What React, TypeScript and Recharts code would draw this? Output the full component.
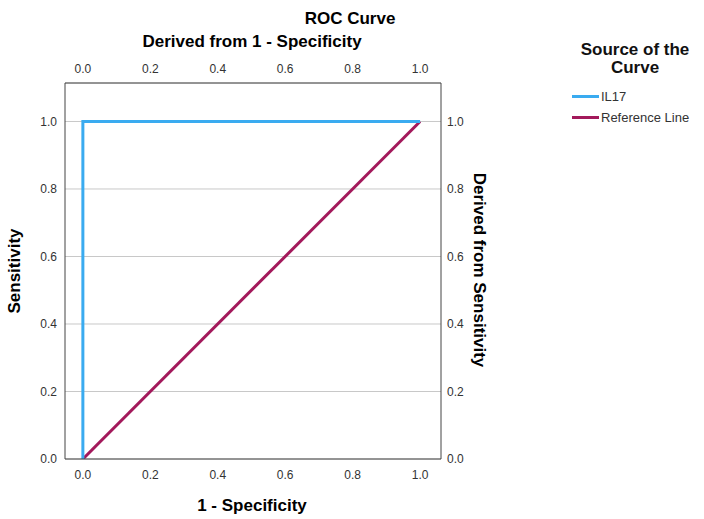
import React from 'react';
import {
    LineChart,
    Line,
    XAxis,
    YAxis,
    CartesianGrid
} from 'recharts';

// ROC data: x = 1 - specificity, y = sensitivity
const il17X = [0, 0, 1];
const il17Y = [0, 1, 1];
const refX = [0, 1];
const refY = [0, 1];
const tickValues = [0, 0.2, 0.4, 0.6, 0.8, 1.0];
const legendNames = ['IL17', 'Reference Line'];

const il17Data = il17X.map((x, i) => ({ x, y: il17Y[i] }));
const refData = refX.map((x, i) => ({ x, y: refY[i] }));

const BLUE = '#3aabf0';
const RED = '#a3195b';
const FONT = '"Liberation Sans", Arial, sans-serif';

const fmt = (v: number) => v.toFixed(1);

const tickStyle = { fill: '#333', fontSize: 12, fontFamily: FONT };

const LegendBox = () => (
    <div style={{ position: 'absolute', left: 560, top: 41, width: 150, fontFamily: FONT, color: '#111' }}>
        <div style={{ fontWeight: 700, fontSize: 17, textAlign: 'center', lineHeight: '18px' }}>
            Source of the<br />Curve
        </div>
        <div style={{ marginTop: 9, paddingLeft: 12 }}>
            {legendNames.map((name, i) => (
                <div key={name} style={{ display: 'flex', alignItems: 'center', height: 21, fontSize: 13, color: '#333' }}>
                    <span style={{ display: 'inline-block', width: 27, height: 3, background: i === 0 ? BLUE : RED, marginRight: 2 }} />
                    {name}
                </div>
            ))}
        </div>
    </div>
);

const App: React.FC = () => {
    return (
        <div style={{ position: 'absolute', left: 0, top: 0, width: 704, height: 519, background: '#fff', fontFamily: FONT }}>
            <LineChart
                width={704}
                height={519}
                margin={{ top: 58, left: 35, right: 233, bottom: 35 }}
            >
                <CartesianGrid yAxisId="left" xAxisId="bottom" vertical={false} stroke="#c8c8c8" strokeWidth={1} />
                <XAxis
                    xAxisId="bottom"
                    dataKey="x"
                    type="number"
                    domain={[-0.053, 1.062]}
                    ticks={tickValues}
                    tickFormatter={fmt}
                    orientation="bottom"
                    height={25}
                    tickSize={0}
                    tickMargin={11}
                    tick={tickStyle}
                    stroke="#444"
                    allowDataOverflow
                />
                <XAxis
                    xAxisId="top"
                    dataKey="x"
                    type="number"
                    domain={[-0.053, 1.062]}
                    ticks={tickValues}
                    tickFormatter={fmt}
                    orientation="top"
                    height={25}
                    tickSize={0}
                    tickMargin={10}
                    tick={tickStyle}
                    stroke="#444"
                    allowDataOverflow
                />
                <YAxis
                    yAxisId="left"
                    type="number"
                    domain={[0, 1.114]}
                    ticks={tickValues}
                    tickFormatter={fmt}
                    orientation="left"
                    width={30}
                    tickSize={0}
                    tickMargin={8}
                    tick={tickStyle}
                    stroke="#444"
                    allowDataOverflow
                />
                <YAxis
                    yAxisId="right"
                    type="number"
                    domain={[0, 1.114]}
                    ticks={tickValues}
                    tickFormatter={fmt}
                    orientation="right"
                    width={30}
                    tickSize={0}
                    tickMargin={6}
                    tick={tickStyle}
                    stroke="#444"
                    allowDataOverflow
                />
                <Line
                    xAxisId="bottom"
                    yAxisId="left"
                    data={refData}
                    dataKey="y"
                    name="Reference Line"
                    stroke={RED}
                    strokeWidth={3}
                    dot={false}
                    isAnimationActive={false}
                />
                <Line
                    xAxisId="bottom"
                    yAxisId="left"
                    data={il17Data}
                    dataKey="y"
                    name="IL17"
                    stroke={BLUE}
                    strokeWidth={3}
                    dot={false}
                    isAnimationActive={false}
                />
            </LineChart>

            <LegendBox />

            <div style={{ position: 'absolute', left: 300, top: 9, width: 100, textAlign: 'center', fontWeight: 700, fontSize: 17 }}>
                ROC Curve
            </div>
            <div style={{ position: 'absolute', left: 102, top: 32, width: 300, textAlign: 'center', fontWeight: 700, fontSize: 17 }}>
                Derived from 1 - Specificity
            </div>
            <div style={{ position: 'absolute', left: 102, top: 496, width: 300, textAlign: 'center', fontWeight: 700, fontSize: 17 }}>
                1 - Specificity
            </div>
            <div style={{ position: 'absolute', left: 15, top: 271, transform: 'translate(-50%, -50%) rotate(-90deg)', fontWeight: 700, fontSize: 17, whiteSpace: 'nowrap' }}>
                Sensitivity
            </div>
            <div style={{ position: 'absolute', left: 479, top: 270, transform: 'translate(-50%, -50%) rotate(90deg)', fontWeight: 700, fontSize: 17, whiteSpace: 'nowrap' }}>
                Derived from Sensitivity
            </div>
        </div>
    );
};

export default App;
